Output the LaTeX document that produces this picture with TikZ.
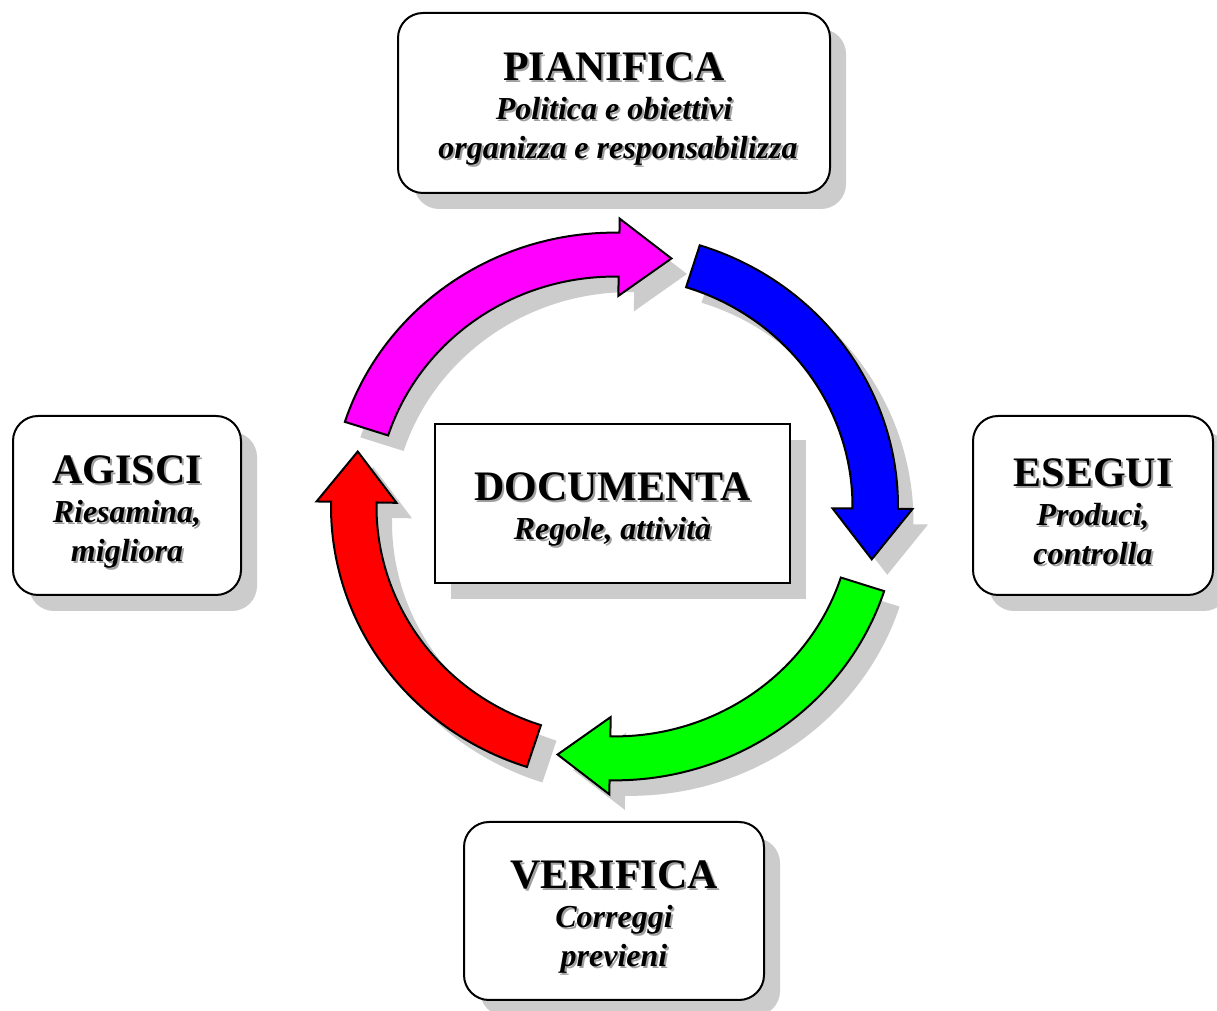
\documentclass[tikz,border=0pt]{standalone}
\usepackage{fontspec}
\setmainfont{Liberation Serif}
\usetikzlibrary{shadows}
\definecolor{shadowgray}{RGB}{204,204,204}
\definecolor{txtshadow}{RGB}{160,160,160}
\definecolor{cmag}{RGB}{255,0,255}
\definecolor{cblue}{RGB}{0,0,255}
\definecolor{cgreen}{RGB}{0,255,0}
\definecolor{cred}{RGB}{255,0,0}
\newcommand\shd[1]{\leavevmode\rlap{\kern2pt\raisebox{-2pt}{\textcolor{txtshadow}{#1}}}#1}
\newcommand\ttl[1]{{\fontsize{42}{42}\selectfont\upshape\rule{0pt}{42pt}\shd{#1}}}
\newcommand\cycShadow[1]{%
  \begin{scope}[shift={(630,489)}, yscale=0.966]
    \fill[shadowgray] (#1:283.5) arc[start angle=#1, end angle=#1-73, radius=283.5]
      -- (#1-73:298) -- (#1-84.5:263) -- (#1-73:218) -- (#1-73:238)
      arc[start angle=#1-73, end angle=#1, radius=238] -- cycle;
  \end{scope}}
\newcommand\cycArrow[2]{%
  \begin{scope}[shift={(614.5,504.5)}, yscale=0.966]
    \filldraw[fill=#2, draw=black, line width=2pt, line join=miter] (#1:283.5) arc[start angle=#1, end angle=#1-73, radius=283.5]
      -- (#1-73:298) -- (#1-84.5:263) -- (#1-73:218) -- (#1-73:238)
      arc[start angle=#1-73, end angle=#1, radius=238] -- cycle;
  \end{scope}}
\begin{document}
\begin{tikzpicture}[x=1pt,y=1pt,
  basebox/.style={draw, line width=2pt, fill=white, align=center, inner sep=0pt,
    drop shadow={shadow xshift=16pt, shadow yshift=-16pt, fill=shadowgray, opacity=1},
    font=\fontsize{32}{39}\selectfont\bfseries\itshape},
  roundbox/.style={basebox, rounded corners=25pt}]
\useasboundingbox (0,0) rectangle (1217,1011);
\fill[white] (0,0) rectangle (1217,1011);

% arrow shadows
\cycShadow{162}
\cycShadow{72.5}
\cycShadow{-18}
\cycShadow{-108}
% arrows
\cycArrow{162}{cmag}
\cycArrow{72.5}{cblue}
\cycArrow{-18}{cgreen}
\cycArrow{-108}{cred}

\node[roundbox, minimum width=432pt, minimum height=180pt] (plan) at (614,908)
  {\ttl{PIANIFICA}\\ \shd{Politica e obiettivi}\\ \shd{\ organizza e responsabilizza}};
\node[roundbox, minimum width=228pt, minimum height=179pt] (act) at (127,505.5)
  {\ttl{AGISCI}\\ \shd{Riesamina,}\\ \shd{migliora}};
\node[roundbox, minimum width=240pt, minimum height=179pt] (do) at (1093,505.5)
  {\ttl{ESEGUI}\\ \shd{Produci,}\\ \shd{controlla}};
\node[roundbox, minimum width=300pt, minimum height=178pt] (check) at (614,100)
  {\ttl{VERIFICA}\\ \shd{Correggi}\\ \shd{previeni}};
\node[basebox, minimum width=355pt, minimum height=159pt] (doc) at (612.5,507.5)
  {\ttl{DOCUMENTA}\\ \shd{Regole, attività}};
\end{tikzpicture}
\end{document}
